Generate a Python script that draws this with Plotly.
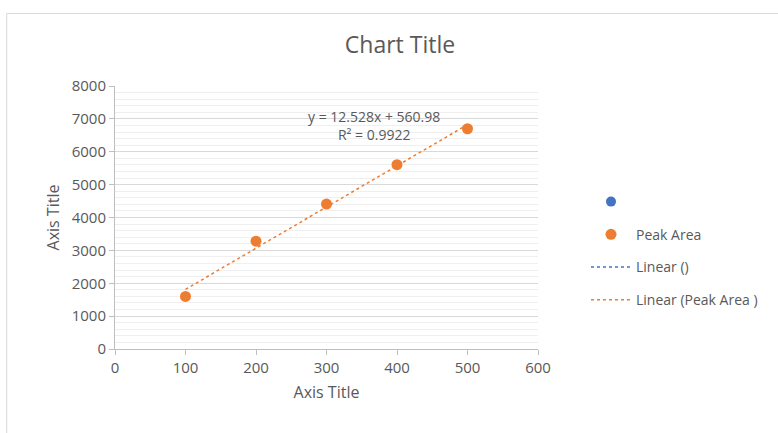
import plotly.graph_objects as go

# Calibration data: concentration vs. peak area
concentration = [100, 200, 300, 400, 500]
peak_area = [1600, 3280, 4409, 5608, 6700]

# Linear trendline coefficients shown on the chart
slope = 12.528
intercept = 560.98
r_squared = 0.9922

x_ticks = [0, 100, 200, 300, 400, 500, 600]
y_ticks = [0, 1000, 2000, 3000, 4000, 5000, 6000, 7000, 8000]

ORANGE = "#ED7D31"
BLUE = "#4472C4"
TEXT = "#595959"
FONT = "'Open Sans', Lato, sans-serif"

trend_x = [concentration[0], concentration[-1]]
trend_y = [slope * x + intercept for x in trend_x]

fig = go.Figure()

# Empty first series (no name)
fig.add_trace(go.Scatter(
    x=[None], y=[None], mode="markers", name=" ",
    marker=dict(color=BLUE, size=10), legendgroup="a",
))
fig.add_trace(go.Scatter(
    x=concentration, y=peak_area, mode="markers", name="Peak Area",
    marker=dict(color=ORANGE, size=11), legendgroup="b",
))
fig.add_trace(go.Scatter(
    x=[None], y=[None], mode="lines", name="Linear ()",
    line=dict(color=BLUE, width=1.5, dash="dot"), legendgroup="c",
))
fig.add_trace(go.Scatter(
    x=trend_x, y=trend_y, mode="lines", name="Linear (Peak Area )",
    line=dict(color=ORANGE, width=1.5, dash="dot"), legendgroup="d",
))

fig.add_annotation(
    x=367, y=6800, xref="x", yref="y",
    text=f"y = {slope}x + {intercept}<br>R² = {r_squared}",
    showarrow=False, align="center",
    font=dict(family=FONT, size=14, color=TEXT),
)

# Outer chart border
fig.add_shape(
    type="rect", xref="paper", yref="paper",
    x0=-0.256, x1=1.6, y0=-0.4, y1=1.2757,
    line=dict(color="#D9D9D9", width=1), fillcolor="rgba(0,0,0,0)",
    layer="below",
)

fig.update_layout(
    width=778, height=433,
    margin=dict(l=115, r=240, t=86, b=84),
    paper_bgcolor="white", plot_bgcolor="white",
    font=dict(family=FONT, color=TEXT, size=14),
    title=dict(
        text="Chart Title", x=400 / 778, xref="container", xanchor="center",
        y=1 - 45 / 433, yref="container", yanchor="middle",
        font=dict(family=FONT, size=23, color=TEXT),
    ),
    showlegend=True,
    legend=dict(
        x=(586 - 115) / 423, y=(349 - 186) / 263, xanchor="left", yanchor="top",
        tracegroupgap=11.5, font=dict(family=FONT, size=14, color=TEXT),
        bgcolor="rgba(0,0,0,0)", itemwidth=40,
    ),
    xaxis=dict(
        range=[0, 600], tickvals=x_ticks, showgrid=False, zeroline=False,
        showline=True, linecolor="#BFBFBF", ticks="outside", ticklen=5,
        tickcolor="#BFBFBF", tickfont=dict(size=15, color=TEXT),
        title=dict(text="Axis Title", font=dict(size=16, color=TEXT), standoff=10),
    ),
    yaxis=dict(
        range=[0, 8000], tickvals=y_ticks, showgrid=True, gridcolor="#D9D9D9",
        zeroline=False, showline=True, linecolor="#BFBFBF",
        ticks="outside", ticklen=5, tickcolor="#BFBFBF",
        tickfont=dict(size=15, color=TEXT),
        minor=dict(dtick=200, showgrid=True, gridcolor="#EFEFEF", ticks=""),
        title=dict(text="Axis Title", font=dict(size=16, color=TEXT), standoff=8),
    ),
)

fig.write_html("out.html")
